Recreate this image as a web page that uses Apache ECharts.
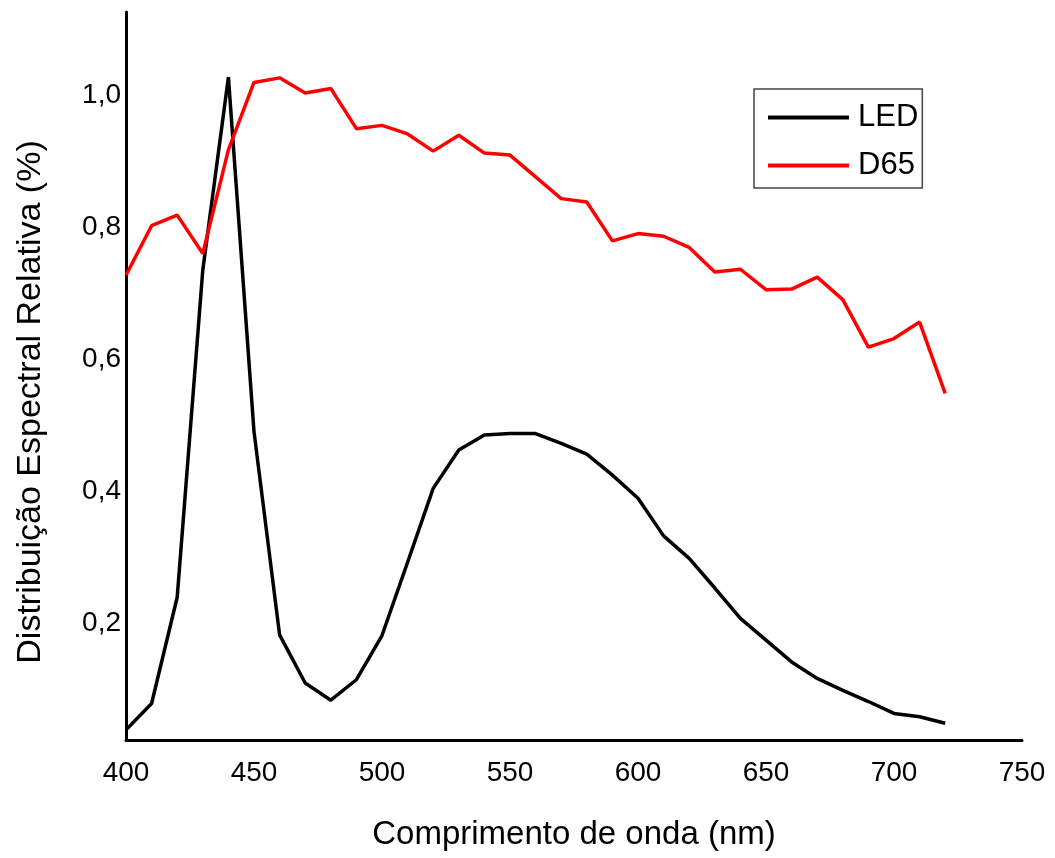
<!DOCTYPE html>
<html>
<head>
<meta charset="utf-8">
<script src="https://cdn.jsdelivr.net/npm/echarts@6/dist/echarts.min.js"></script>
<style>
html,body{margin:0;padding:0;background:#fff;}
#chart{width:1055px;height:858px;}
</style>
</head>
<body>
<div id="chart"></div>
<script>
const wavelengths = [400,410,420,430,440,450,460,470,480,490,500,510,520,530,540,550,560,570,580,590,600,610,620,630,640,650,660,670,680,690,700,710,720];
const ledValues = [0.038,0.078,0.239,0.735,1.027,0.490,0.182,0.109,0.083,0.114,0.181,0.292,0.404,0.462,0.485,0.487,0.487,0.472,0.456,0.424,0.389,0.332,0.298,0.253,0.207,0.174,0.141,0.116,0.098,0.081,0.063,0.058,0.048];
const d65Values = [0.727,0.802,0.818,0.760,0.917,1.019,1.026,1.003,1.010,0.949,0.954,0.941,0.915,0.939,0.912,0.909,0.876,0.843,0.838,0.779,0.790,0.786,0.769,0.732,0.736,0.705,0.706,0.724,0.690,0.618,0.631,0.656,0.548];
const yTickValues = [0.2,0.4,0.6,0.8,1.0];
const xTitle = 'Comprimento de onda (nm)';
const yTitle = 'Distribuição Espectral Relativa (%)';
const seriesNames = ['LED','D65'];

const chart = echarts.init(document.getElementById('chart'), null, {renderer:'canvas'});
const zip = arr => wavelengths.map((w,i)=>[w,arr[i]]);
const font = 'Liberation Sans';
chart.setOption({
  animation:false,
  backgroundColor:'#fff',
  grid:{left:126,right:33,top:12,bottom:118},
  legend:{
    orient:'vertical',
    left:754, top:89,
    padding:[13,4,7,12],
    itemWidth:81, itemHeight:24, itemGap:17,
    borderColor:'#444', borderWidth:1.5,
    itemStyle:{opacity:0},
    lineStyle:{width:4},
    textStyle:{fontFamily:font, fontSize:31, color:'#000', padding:[0,0,0,4]},
    data:seriesNames
  },
  xAxis:{
    type:'value', min:400, max:750, interval:50,
    name:xTitle, nameLocation:'middle', nameGap:78,
    nameTextStyle:{fontFamily:font, fontSize:33, color:'#000'},
    axisLine:{lineStyle:{color:'#000', width:3}},
    axisTick:{show:false},
    splitLine:{show:false},
    axisLabel:{fontFamily:font, fontSize:28, color:'#000', margin:19}
  },
  yAxis:{
    type:'value', min:0.0227, max:1.1258,
    name:yTitle, nameLocation:'middle', nameGap:78,
    nameTextStyle:{fontFamily:font, fontSize:34, color:'#000', padding:[0,52,0,0]},
    axisLine:{show:true, lineStyle:{color:'#000', width:3}},
    axisTick:{show:false},
    splitLine:{show:false},
    axisLabel:{fontFamily:font, fontSize:28, color:'#000', margin:5,
      customValues:yTickValues,
      formatter:v=>v.toFixed(1).replace('.',',')}
  },
  series:[
    {name:seriesNames[0], type:'line', data:zip(ledValues), symbol:'none',
     lineStyle:{color:'#000', width:3.5}, itemStyle:{color:'#000'}},
    {name:seriesNames[1], type:'line', data:zip(d65Values), symbol:'none',
     lineStyle:{color:'#ff0000', width:3.5}, itemStyle:{color:'#ff0000'}}
  ]
});
</script>
</body>
</html>
